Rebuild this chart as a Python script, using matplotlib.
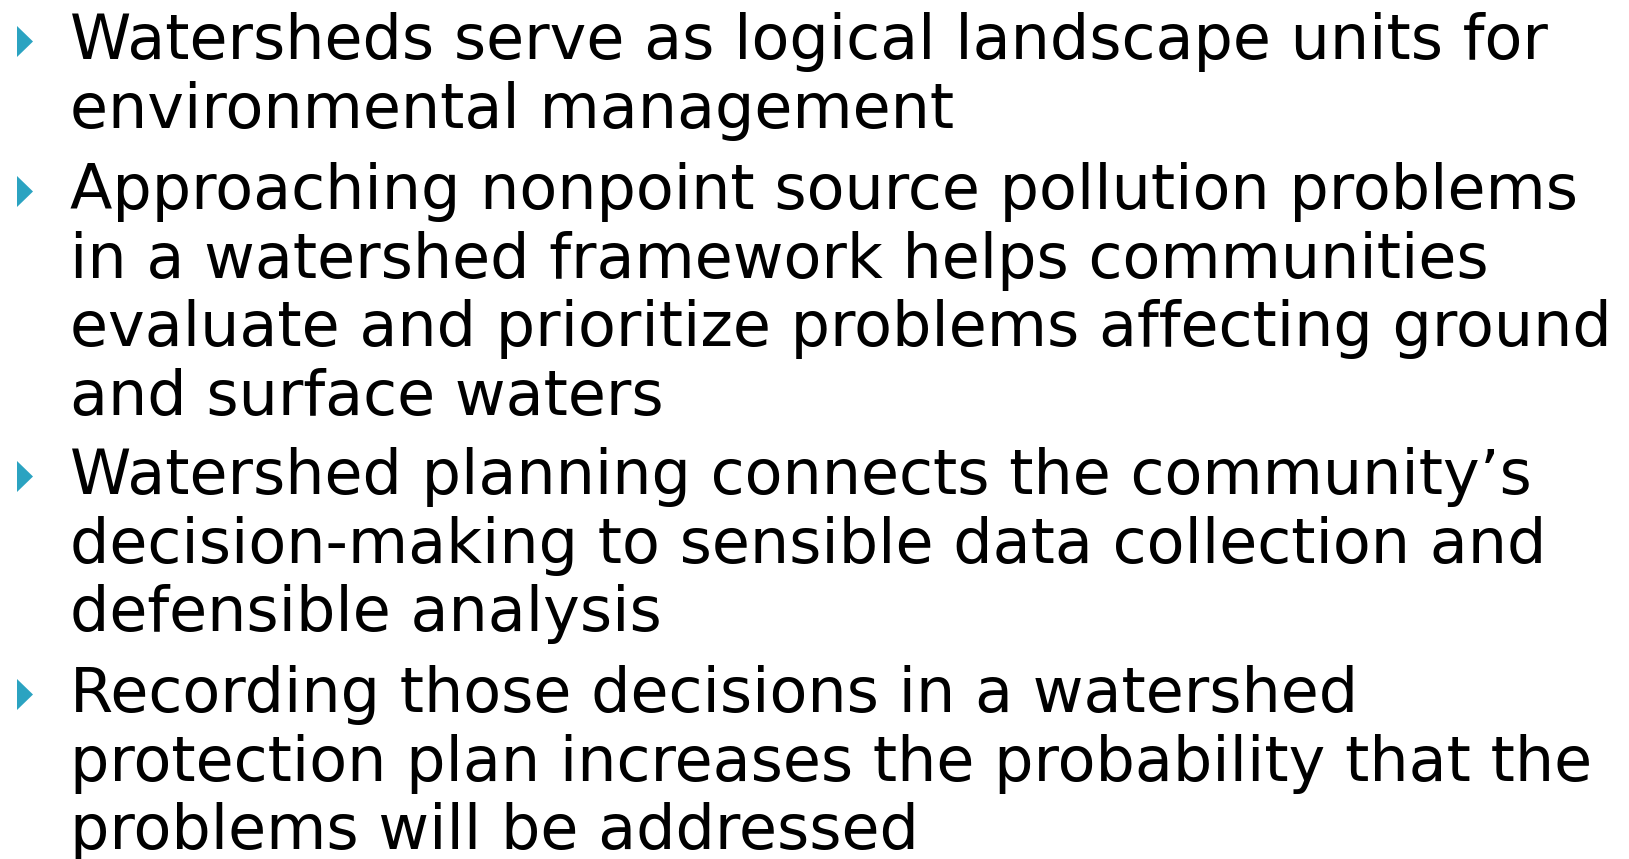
import matplotlib
matplotlib.use("Agg")
import matplotlib.pyplot as plt

# Slide content: bullets, each split into the wrapped lines seen on the slide
bullets = [
    ["Watersheds serve as logical landscape units for",
     "environmental management"],
    ["Approaching nonpoint source pollution problems",
     "in a watershed framework helps communities",
     "evaluate and prioritize problems affecting ground",
     "and surface waters"],
    ["Watershed planning connects the community\u2019s",
     "decision-making to sensible data collection and",
     "defensible analysis"],
    ["Recording those decisions in a watershed",
     "protection plan increases the probability that the",
     "problems will be addressed"],
]

W, H = 1629, 859
fig = plt.figure(figsize=(W / 100, H / 100), dpi=100)
ax = fig.add_axes([0, 0, 1, 1])
ax.set_xlim(0, W)
ax.set_ylim(H, 0)
ax.axis("off")

text_x = 70
para_start = [59, 209, 494, 712]   # baseline of the first line of each bullet
line_step = 68.7
target_width = 1610 - text_x
font = "DejaVu Sans"

# pick a font size so the longest line spans the same width as on the slide
renderer = fig.canvas.get_renderer()
probe = ax.text(0, 0, "evaluate and prioritize problems affecting ground",
                fontsize=40, family=font)
w = probe.get_window_extent(renderer).width
probe.remove()
fs = 40 * target_width / w

for lines, y0 in zip(bullets, para_start):
    # triangle bullet
    ax.fill([17, 17, 33], [y0 - 33, y0 - 2, y0 - 17.5], color="#2BA3C1", lw=0)
    for i, line in enumerate(lines):
        ax.text(text_x, y0 + i * line_step, line, fontsize=fs, family=font,
                va="baseline", ha="left", color="black")

fig.savefig("out.png", dpi=100)
